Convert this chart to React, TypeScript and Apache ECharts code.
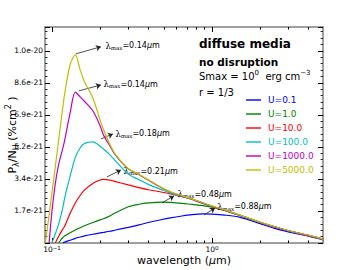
import React, { useEffect, useRef } from 'react';
import * as echarts from 'echarts';

// wavelength grid (μm)
const wavelengths = [0.091, 0.096, 0.1, 0.105, 0.11, 0.117, 0.12, 0.13, 0.14, 0.15, 0.16, 0.18, 0.2, 0.21, 0.23, 0.25, 0.3, 0.35, 0.4, 0.48, 0.55, 0.65, 0.75, 0.88, 1.0, 1.2, 1.5, 2, 2.5, 3, 4, 5];

// P_lambda / N_H in units of 1e-21
const u01 = [null, null, null, null, null, 0, 0.05, 0.15, 0.25, 0.32, 0.38, 0.47, 0.54, 0.57, 0.63, 0.7, 0.84, 0.97, 1.1, 1.25, 1.35, 1.45, 1.52, 1.56, 1.55, 1.5, 1.38, 1.04, 0.77, 0.6, 0.37, 0.16];
const u1 = [null, null, null, null, 0, 0.3, 0.38, 0.55, 0.7, 0.82, 0.93, 1.1, 1.24, 1.3, 1.45, 1.62, 1.95, 2.08, 2.15, 2.2, 2.18, 2.13, 2.07, 2.01, 1.92, 1.75, 1.48, 1.1, 0.85, 0.65, 0.41, 0.19];
const u10 = [null, null, null, 0, 0.35, 0.75, 0.9, 1.6, 2.15, 2.55, 2.85, 3.2, 3.38, 3.42, 3.38, 3.3, 3.12, 2.97, 2.86, 2.74, 2.64, 2.49, 2.34, 2.12, 1.96, 1.75, 1.47, 1.1, 0.84, 0.65, 0.4, 0.19];
const u100 = [null, null, 0, 0.5, 1.0, 1.9, 2.4, 3.6, 4.6, 5.1, 5.35, 5.43, 5.2, 5.05, 4.75, 4.4, 3.7, 3.4, 3.15, 2.88, 2.68, 2.5, 2.35, 2.13, 1.97, 1.76, 1.48, 1.1, 0.85, 0.65, 0.41, 0.19];
const u1000 = [null, 0, 1.7, 3.2, 4.2, 5.1, 5.5, 7.0, 8.1, 7.85, 7.6, 7.1, 6.3, 5.8, 5.22, 4.7, 3.98, 3.66, 3.37, 2.98, 2.74, 2.52, 2.36, 2.14, 1.98, 1.77, 1.49, 1.11, 0.85, 0.66, 0.41, 0.2];
const u5000 = [0, 1.5, 2.7, 4.1, 5.5, 7.3, 8.0, 9.6, 10.1, 9.3, 8.65, 7.8, 6.6, 6.1, 5.3, 4.75, 4.0, 3.68, 3.39, 3.0, 2.75, 2.53, 2.37, 2.15, 1.99, 1.78, 1.5, 1.12, 0.86, 0.67, 0.42, 0.2];

const seriesNames = ['U=0.1', 'U=1.0', 'U=10.0', 'U=100.0', 'U=1000.0', 'U=5000.0'];
const seriesColors = ['#0000ff', '#008000', '#ff0000', '#00bfbf', '#bf00bf', '#bfbf00'];
const seriesValues = [u01, u1, u10, u100, u1000, u5000];

// annotations: peak wavelength label, arrow tail, arrow head, text anchor (λ, value)
const peakLabels = ['0.88', '0.48', '0.21', '0.18', '0.14', '0.14'];
const arrowTails = [[0.8926, 1.505], [0.4866, 2.15], [0.2206, 3.55], [0.2024, 5.59], [0.1475, 8.17], [0.1413, 10.16]];
const arrowHeads = [[1.0441, 1.88], [0.5792, 2.53], [0.27, 3.92], [0.2404, 5.86], [0.2024, 8.49], [0.2024, 10.54]];
const textAnchors = [[1.07, 1.96], [0.604, 2.61], [0.2777, 3.84], [0.2475, 5.86], [0.2084, 8.52], [0.2143, 10.59]];

const xMajorTicks = [0.1, 1];
const xMinorTicks = [0.2, 0.3, 0.4, 0.5, 0.6, 0.7, 0.8, 0.9, 2, 3, 4];
const xMin = 0.0905;
const xMax = 4.94;
const yMin = 0;
const yMax = 11.6;
const yInterval = 1.72;

const FONT = 'DejaVu Sans';
const FRAME = '#808080';

export default function App() {
  const ref = useRef<HTMLDivElement>(null);
  useEffect(() => {
    if (!ref.current) return;
    const chart = echarts.init(ref.current, null, { renderer: 'svg' });

    const baseX = (position: string, ticks: number[], len: number, labels: boolean, line: boolean) => ({
      type: 'log',
      min: xMin,
      max: xMax,
      position,
      axisLine: { show: line, onZero: false, lineStyle: { color: FRAME, width: 1.5 } },
      axisTick: { show: true, inside: true, length: len, customValues: ticks, lineStyle: { color: '#000', width: 1 } },
      axisLabel: labels
        ? {
            show: true,
            customValues: ticks,
            margin: 2,
            formatter: (v: number) => {
              const e = Math.round(Math.log10(v));
              return '{b|10}{s|' + (e < 0 ? '\u2212' + -e : String(e)) + '}';
            },
            rich: {
              b: { fontSize: 7.5, fontFamily: FONT, color: '#000', lineHeight: 8, verticalAlign: 'middle' },
              s: { fontSize: 5.5, fontFamily: FONT, color: '#000', lineHeight: 5, verticalAlign: 'top' },
            },
          }
        : { show: false },
      splitLine: { show: false },
      minorTick: { show: false },
      minorSplitLine: { show: false },
    });

    const baseY = (position: string, labels: boolean) => ({
      type: 'value',
      min: yMin,
      max: yMax,
      interval: yInterval,
      position,
      axisLine: { show: true, onZero: false, lineStyle: { color: FRAME, width: 1.5 } },
      axisTick: { show: true, inside: true, length: 5, lineStyle: { color: '#000', width: 1 } },
      minorTick: { show: true, splitNumber: 5, length: 2.5, lineStyle: { color: '#000', width: 0.8 } },
      axisLabel: labels
        ? {
            show: true,
            showMaxLabel: false,
            margin: 2,
            fontSize: 7.5,
            fontFamily: FONT,
            color: '#000',
            formatter: (v: number) => (v === 0 ? '' : (v * 1e-21).toExponential(1)),
          }
        : { show: false },
      splitLine: { show: false },
    });

    const annRich = {
      l: { fontFamily: 'DejaVu Serif', fontSize: 8.5, color: '#000', lineHeight: 10, verticalAlign: 'middle' },
      s: { fontFamily: 'DejaVu Serif', fontSize: 5.5, color: '#000', lineHeight: 6, verticalAlign: 'bottom' },
      t: { fontFamily: FONT, fontSize: 8, color: '#000', lineHeight: 10, verticalAlign: 'middle' },
      u: { fontFamily: FONT, fontStyle: 'italic', fontSize: 8, color: '#000', lineHeight: 10, verticalAlign: 'middle' },
    };

    const series = seriesNames.map((name, i) => ({
      name,
      type: 'line',
      xAxisIndex: 0,
      yAxisIndex: 0,
      data: wavelengths.map((w, j) => [w, seriesValues[i][j]]),
      showSymbol: false,
      symbol: 'none',
      smooth: 0.3,
      connectNulls: false,
      lineStyle: { color: seriesColors[i], width: 1.2 },
      itemStyle: { color: seriesColors[i] },
      emphasis: { disabled: true },
      silent: true,
      z: 2 + i,
      markLine: {
        silent: true,
        symbol: ['none', 'arrow'],
        symbolSize: 5,
        label: { show: false },
        emphasis: { disabled: true },
        lineStyle: { color: '#222', width: 0.8, type: 'solid', curveness: 0.2 },
        data: [[{ coord: arrowTails[i] }, { coord: arrowHeads[i] }]],
      },
      markPoint: {
        silent: true,
        symbol: 'circle',
        symbolSize: 1,
        itemStyle: { color: 'rgba(0,0,0,0)' },
        emphasis: { disabled: true },
        label: {
          show: true,
          position: 'right',
          distance: 0,
          formatter: '{l|\u03bb}{s|max}{t|=' + peakLabels[i] + '}{u|\u03bc}{t|m}',
          rich: annRich,
        },
        data: [{ coord: textAnchors[i] }],
      },
    }));

    chart.setOption({
      animation: false,
      textStyle: { fontFamily: FONT },
      grid: { left: 45, right: 37, top: 27, bottom: 27 },
      xAxis: [
        baseX('bottom', xMajorTicks, 5, true, true),
        baseX('top', xMajorTicks, 5, false, true),
        baseX('bottom', xMinorTicks, 2.5, false, false),
        baseX('top', xMinorTicks, 2.5, false, false),
      ],
      yAxis: [baseY('left', true), baseY('right', false)],
      legend: {
        orient: 'vertical',
        left: 241,
        top: 88,
        itemGap: 0,
        itemWidth: 15,
        itemHeight: 2,
        icon: 'rect',
        selectedMode: false,
        textStyle: { fontSize: 9, fontFamily: FONT, lineHeight: 14, padding: [0, 0, 0, 2] },
        data: seriesNames.map((name, i) => ({
          name,
          textStyle: { color: seriesColors[i] },
          itemStyle: { color: seriesColors[i], opacity: 0.7 },
        })),
      },
      graphic: [
        {
          type: 'text', x: 199, y: 44, silent: true,
          style: { text: 'diffuse media', fontSize: 12, fontWeight: 'bold', fontFamily: FONT, fill: '#000', align: 'left', verticalAlign: 'middle' },
        },
        {
          type: 'text', x: 199, y: 61.5, silent: true,
          style: { text: 'no disruption', fontSize: 10.5, fontWeight: 'bold', fontFamily: FONT, fill: '#000', align: 'left', verticalAlign: 'middle' },
        },
        {
          type: 'text', x: 199, y: 76.5, silent: true,
          style: {
            text: '{a|Smax = 10}{s|0}{a|  erg cm}{s|\u22123}',
            align: 'left', verticalAlign: 'middle',
            rich: {
              a: { fontSize: 10, fontFamily: FONT, fill: '#000', lineHeight: 14, verticalAlign: 'middle' },
              s: { fontSize: 7, fontFamily: FONT, fill: '#000', lineHeight: 7, verticalAlign: 'top' },
            },
          },
        },
        {
          type: 'text', x: 199, y: 92, silent: true,
          style: { text: 'r = 1/3', fontSize: 10, fontFamily: FONT, fill: '#000', align: 'left', verticalAlign: 'middle' },
        },
        {
          type: 'text', x: 184, y: 260, silent: true,
          style: {
            text: '{a|wavelength (}{m|\u03bc}{a|m)}',
            align: 'center', verticalAlign: 'middle',
            rich: {
              a: { fontSize: 11, fontFamily: FONT, fill: '#000', lineHeight: 11 },
              m: { fontSize: 11, fontFamily: FONT, fontStyle: 'italic', fill: '#000', lineHeight: 11 },
            },
          },
        },
        {
          type: 'text', x: 12, y: 135, rotation: Math.PI / 2, silent: true,
          style: {
            text: '{a|P}{b|\u03bb}{a|/N}{b|H}{a| (%cm}{c|2}{a| )}',
            align: 'center', verticalAlign: 'middle',
            rich: {
              a: { fontSize: 11, fontFamily: FONT, fill: '#000', lineHeight: 16, verticalAlign: 'middle' },
              b: { fontSize: 8, fontFamily: FONT, fill: '#000', lineHeight: 8, verticalAlign: 'bottom' },
              c: { fontSize: 8, fontFamily: FONT, fill: '#000', lineHeight: 8, verticalAlign: 'top' },
            },
          },
        },
      ],
      series,
    });

    return () => chart.dispose();
  }, []);

  return <div ref={ref} style={{ width: 360, height: 270, position: 'absolute', left: 0, top: 0, background: '#fff' }} />;
}
